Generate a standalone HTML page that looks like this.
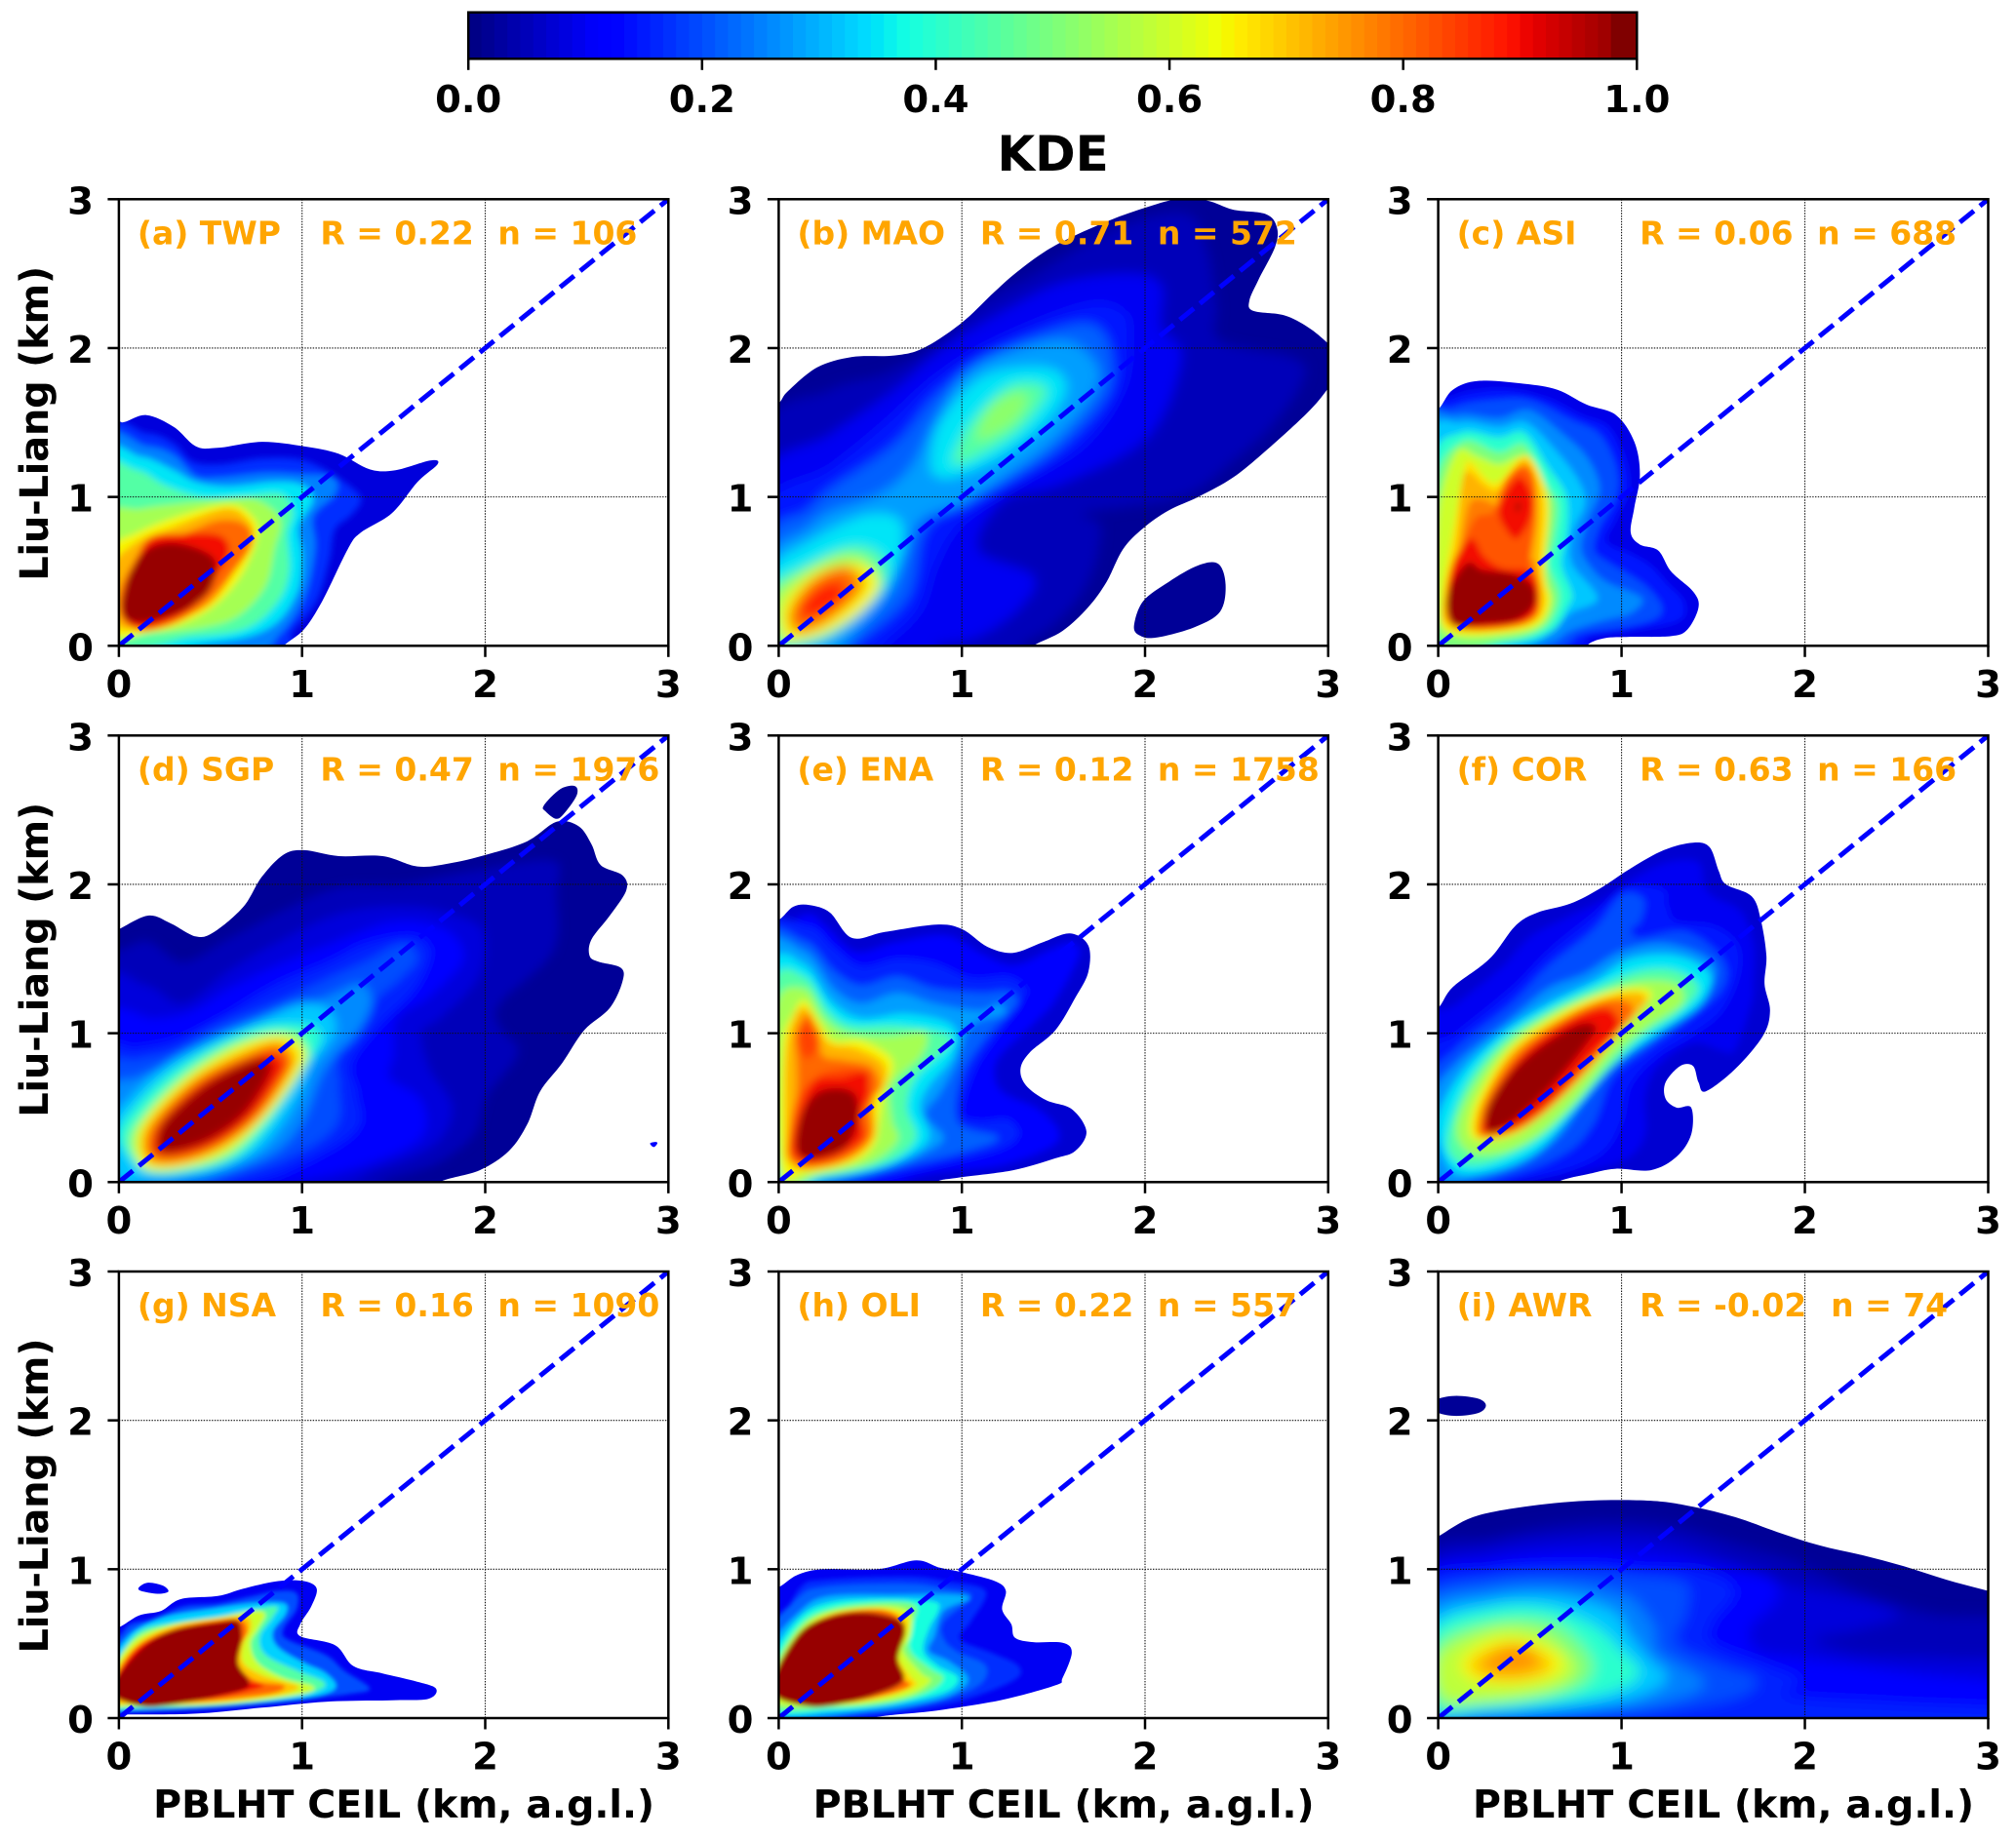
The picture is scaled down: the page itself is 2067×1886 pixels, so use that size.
<!DOCTYPE html>
<html lang="en">
<head>
<meta charset="utf-8">
<title>KDE of Liu-Liang versus PBLHT CEIL</title>
<style>
html,body{margin:0;padding:0;background:#fff;width:2067px;height:1886px;overflow:hidden}
svg{display:block}
text{font-family:"DejaVu Sans","Liberation Sans",sans-serif;font-weight:bold}
</style>
</head>
<body>
<svg id="fig" xmlns="http://www.w3.org/2000/svg" width="2067" height="1886" viewBox="0 0 2067 1886"></svg>
<script>
// ---------- chart data (km, KDE level) ----------
const axisTicks = [0, 1, 2, 3];
const colorbarTicks = [0, 0.2, 0.4, 0.6, 0.8, 1];
const colorbarTickLabels = ["0.0", "0.2", "0.4", "0.6", "0.8", "1.0"];
const colorbarBandCount = 90;
const panelLabels = ["(a) TWP", "(b) MAO", "(c) ASI", "(d) SGP", "(e) ENA", "(f) COR", "(g) NSA", "(h) OLI", "(i) AWR"];
const panelR = ["R = 0.22", "R = 0.71", "R = 0.06", "R = 0.47", "R = 0.12", "R = 0.63", "R = 0.16", "R = 0.22", "R = -0.02"];
const panelN = ["n = 106", "n = 572", "n = 688", "n = 1976", "n = 1758", "n = 166", "n = 1090", "n = 557", "n = 74"];

const levelsA = [.08,.17,.25,.35,.45,.55,.65,.72,.8,.9,.98];
const contoursA = [
[-.1,1.5,.02,1.5,.15,1.55,.3,1.47,.42,1.34,.54,1.33,.78,1.37,1.01,1.34,1.2,1.29,1.37,1.185,1.51,1.18,1.7,1.245,1.74,1.22,1.63,1.1,1.49,.89,1.32,.76,1.25,.65,1.11,.3,1.01,.11,.9,0,.85,-.1,-.1,-.1],
[-.1,1.4,.15,1.43,.3,1.36,.4,1.24,.55,1.22,.78,1.26,1,1.25,1.17,1.15,1.32,1,1.27,.88,1.18,.78,1.15,.58,1.08,.3,.95,.1,.85,-.05,-.1,-.1],
[-.1,1.33,.15,1.34,.3,1.28,.42,1.14,.55,1.13,.8,1.16,1,1.15,1.17,1.13,1.18,1.02,1.06,.87,1.07,.65,1.01,.32,.88,.08,.7,-.05,-.1,-.1],
[-.1,1.25,.12,1.27,.3,1.18,.42,1.1,.6,1.07,.85,1.1,1,1.08,1.06,.98,.98,.8,1,.6,.97,.35,.82,.12,.5,.02,-.1,0],
[-.1,1.15,.1,1.18,.25,1.08,.45,1,.65,1,.88,1.02,.95,.9,.92,.75,.93,.5,.87,.3,.7,.12,.4,.06,-.1,.04],
[-.1,.85,.12,.92,.3,.95,.55,.98,.75,.98,.88,.85,.85,.65,.8,.4,.65,.2,.45,.12,.15,.08,-.1,.08],
[-.05,.62,.1,.76,.35,.88,.6,.95,.72,.88,.76,.75,.68,.5,.55,.3,.4,.18,.2,.1,-.05,.1],
[-.05,.5,.1,.7,.3,.8,.58,.92,.7,.85,.73,.72,.63,.5,.5,.28,.3,.17,.12,.12,-.02,.15],
[0,.33,.05,.5,.16,.68,.35,.75,.54,.84,.68,.82,.73,.7,.63,.5,.47,.28,.3,.15,.12,.1,.02,.18],
[.02,.3,.09,.56,.17,.72,.35,.75,.55,.74,.6,.62,.5,.42,.4,.26,.25,.16,.12,.12,.03,.18],
[.02,.32,.065,.5,.16,.65,.3,.69,.47,.63,.53,.54,.49,.365,.35,.235,.16,.16,.05,.17,.02,.23]
];

const levelsB = [.02,.02,.05,.1,.15,.22,.28,.35,.35,.45,.52,.45,.55,.65,.75,.8,.88];
const contoursB = [
[-.1,1.55,0,1.63,.05,1.71,.21,1.87,.4,1.94,.63,1.95,.79,2,1,2.17,1.18,2.38,1.32,2.53,1.51,2.69,1.79,2.85,2.02,2.95,2.18,3,2.34,2.99,2.48,2.93,2.66,2.9,2.72,2.81,2.71,2.68,2.62,2.46,2.57,2.32,2.59,2.25,2.76,2.22,2.89,2.14,3,2.03,3.1,1.9,3,1.73,2.89,1.57,2.66,1.31,2.48,1.13,2.29,1,2.13,.91,1.99,.79,1.88,.65,1.79,.43,1.69,.26,1.55,.1,1.39,0,1.3,-.1,-.1,-.1],
[1.94,.135,1.99,.3,2.13,.43,2.29,.54,2.4,.55,2.44,.41,2.41,.23,2.27,.125,2.06,.055,1.97,.07],
[-.1,1.4,.28,1.72,.58,1.83,.86,2.03,1.09,2.29,1.4,2.5,1.75,2.75,2.02,2.88,2.25,2.89,2.34,2.66,2.39,2.29,2.41,2.05,2.8,1.94,2.87,1.81,2.71,1.5,2.48,1.24,2.2,1,1.67,.89,1.76,.8,1.69,.43,1.51,.15,1.32,0,1.25,-.1,-.1,-.1],
[-.1,1.1,.28,1.42,.63,1.72,.9,2,1.23,2.25,1.55,2.44,1.92,2.5,2.09,2.42,2.09,2.14,2.2,1.94,2.02,1.41,1.55,1.09,1.23,.98,1.09,.65,1.39,.47,1.32,.26,1.09,.06,.86,0,.8,-.1,-.1,-.1],
[-.1,.9,.28,1.2,.58,1.5,.86,1.81,1.21,2.07,1.67,2.29,1.88,2.25,1.92,2.07,1.88,1.72,1.67,1.35,1.32,1.09,1,.82,.86,.54,.77,.23,.58,0,.5,-.1,-.1,-.1],
[-.05,.72,.15,.9,.28,1.05,.63,1.35,.86,1.68,1.14,1.94,1.55,2.14,1.74,2.14,1.82,1.94,1.79,1.68,1.55,1.35,1.28,1.13,.95,.93,.79,.76,.7,.32,.4,0,.3,-.1,-.1,-.1],
[-.05,.58,.15,.78,.28,.9,.55,1.02,.72,1.2,.85,1.5,1,1.8,1.2,1.95,1.55,2.05,1.73,1.9,1.72,1.7,1.5,1.38,1.25,1.15,1,.95,.78,.85,.68,.6,.6,.35,.35,0,.25,-.1,-.1,-.1],
[.83,1.24,.88,1.5,1.09,1.79,1.32,1.87,1.51,1.85,1.57,1.72,1.46,1.5,1.23,1.28,.98,1.14,.86,1.14],
[-.05,.48,.17,.7,.45,.87,.63,.87,.68,.76,.65,.54,.54,.32,.33,.1,.17,0,-.05,-.05],
[.95,1.26,1.05,1.5,1.25,1.74,1.42,1.76,1.46,1.68,1.32,1.46,1.14,1.31,.98,1.22],
[1.08,1.41,1.16,1.61,1.3,1.7,1.36,1.66,1.28,1.5,1.12,1.39],
[-.05,.38,.17,.55,.4,.67,.56,.61,.58,.43,.45,.23,.26,.06,.03,0,-.05,0],
[-.03,.32,.1,.47,.3,.6,.45,.6,.53,.48,.48,.33,.35,.15,.18,.05,.03,.03],
[.03,.3,.17,.47,.33,.54,.47,.54,.55,.41,.45,.23,.24,.08,.05,.04,.01,.12],
[.06,.23,.17,.43,.35,.54,.45,.47,.45,.365,.26,.15,.1,.09],
[.065,.21,.19,.43,.34,.51,.42,.43,.4,.32,.21,.16,.09,.11],
[.12,.26,.21,.38,.31,.43,.36,.39,.33,.3,.21,.21,.145,.19]
];

const levelsC = [.09,.15,.2,.26,.32,.4,.5,.6,.67,.72,.78,.82,.9,.9,.98,.96];
const contoursC = [
[-.1,1.55,0,1.59,.08,1.72,.22,1.78,.47,1.76,.65,1.72,.81,1.62,.97,1.55,1.07,1.37,1.1,1.15,1.07,.93,1.05,.76,1.1,.68,1.2,.64,1.27,.5,1.39,.365,1.42,.26,1.36,.11,1.27,.065,1.04,.06,.9,.05,.81,0,.8,-.1,-.1,-.1],
[-.1,1.5,.08,1.67,.25,1.72,.4,1.72,.6,1.66,.78,1.55,.93,1.47,1.02,1.25,1.04,1.05,.97,.85,.92,.7,1.05,.62,1.16,.54,1.25,.42,1.34,.3,1.32,.17,1.11,.11,.84,.06,.7,-.03,-.1,-.1],
[-.1,1.45,.08,1.6,.3,1.65,.5,1.65,.72,1.52,.88,1.42,.97,1.2,.97,1,.88,.8,.85,.65,.9,.58,1.05,.47,1.15,.38,1.22,.26,1.18,.18,1,.12,.78,.08,.6,-.03,-.1,-.1],
[-.1,1.4,.1,1.55,.33,1.53,.5,1.58,.7,1.4,.82,1.25,.88,1.05,.82,.85,.78,.65,.85,.5,.93,.42,1.11,.32,1.05,.22,.9,.17,.72,.1,.55,0,-.1,-.1],
[-.05,1.35,.12,1.5,.33,1.47,.48,1.5,.65,1.3,.77,1.1,.8,.95,.73,.75,.73,.55,.87,.32,.72,.22,.6,.08,.45,0,-.05,-.05],
[-.03,1.2,.12,1.43,.33,1.4,.47,1.43,.6,1.2,.7,1,.7,.75,.67,.55,.73,.35,.7,.25,.62,.1,.4,.02,-.03,.02],
[-.02,1.05,.13,1.37,.33,1.3,.47,1.35,.58,1.1,.65,.95,.63,.7,.6,.55,.66,.35,.63,.2,.55,.1,.35,.03,0,.03],
[0,.9,.1,1.3,.22,1.27,.33,1.22,.47,1.27,.56,1.05,.6,.85,.58,.6,.58,.45,.62,.3,.55,.13,.35,.07,.1,.06,0,.2],
[.135,1.13,.17,1.24,.31,1.09,.48,1.28,.6,.98,.58,.54,.6,.28,.51,.135,.24,.08,.04,.12,.02,.32,.08,.76],
[.13,1.1,.17,1.17,.25,1.08,.33,1.05,.47,1.25,.56,1,.55,.55,.57,.3,.5,.15,.24,.1,.06,.14,.03,.3,.1,.7],
[.11,.6,.17,.95,.25,.98,.35,.95,.45,1.2,.52,1.15,.53,.85,.5,.6,.53,.55,.55,.3,.48,.16,.24,.11,.07,.15,.05,.35],
[.1,.55,.2,.85,.3,.9,.36,1.1,.45,1.2,.52,1.1,.53,.85,.5,.55,.53,.45,.55,.25,.47,.16,.24,.12,.07,.16,.05,.35],
[.33,.9,.38,1.05,.45,1.13,.51,1,.5,.85,.43,.72,.37,.78],
[.05,.35,.08,.55,.18,.72,.25,.6,.35,.52,.5,.5,.55,.35,.5,.18,.35,.13,.15,.12,.06,.17],
[.05,.33,.1,.47,.17,.56,.24,.51,.4,.485,.51,.41,.525,.28,.42,.17,.24,.145,.1,.135,.055,.21],
[.42,.93,.44,.97,.45,.93,.43,.9]
];

const levelsD = [.02,.02,.11,.05,.08,.12,.16,.2,.26,.32,.4,.5,.6,.66,.75,.82,.9,.98];
const contoursD = [
[-.1,1.65,0,1.7,.16,1.79,.28,1.74,.42,1.65,.52,1.68,.68,1.85,.78,2.05,.9,2.2,1.01,2.23,1.2,2.19,1.44,2.19,1.63,2.12,1.8,2.14,2.01,2.2,2.23,2.29,2.39,2.42,2.51,2.39,2.58,2.27,2.63,2.13,2.75,2.06,2.77,1.96,2.68,1.79,2.58,1.63,2.57,1.52,2.62,1.48,2.74,1.44,2.75,1.35,2.68,1.17,2.54,1.02,2.42,.8,2.3,.61,2.23,.39,2.13,.21,1.97,.08,1.75,0,1.7,-.1,-.1,-.1],
[2.32,2.53,2.41,2.64,2.49,2.66,2.5,2.6,2.44,2.49,2.39,2.44,2.33,2.49],
[2.9,.26,2.93,.27,2.94,.26,2.92,.235],
[-.1,1.5,0,1.55,.16,1.62,.35,1.48,.59,1.63,.87,1.81,1.2,1.98,1.54,2,1.94,2.09,2.37,2.16,2.39,1.94,2.37,1.55,2.08,1.2,2.08,1.04,2.18,.87,2.01,.58,1.94,.32,1.73,.12,1.44,0,1.35,-.1,-.1,-.1],
[-.1,1.3,.15,1.32,.35,1.2,.6,1.42,.85,1.6,1.2,1.8,1.6,1.85,1.93,1.75,2,1.6,1.95,1.35,1.75,1.1,1.65,1,1.7,.75,1.82,.5,1.72,.25,1.4,.08,1.1,-.03,-.1,-.1],
[-.1,1.08,.2,1.1,.4,1.15,.6,1.3,.85,1.45,1.15,1.6,1.5,1.75,1.78,1.7,1.88,1.5,1.7,1.25,1.52,1.1,1.5,.85,1.48,.7,1.65,.55,1.65,.3,1.35,.12,.9,0,-.1,-.1],
[-.1,.85,.1,.9,.3,.95,.55,1.1,.85,1.32,1.15,1.48,1.35,1.6,1.6,1.65,1.7,1.55,1.62,1.3,1.42,1.05,1.27,.8,1.3,.6,1.3,.35,1,.12,.7,0,-.1,-.1],
[-.05,.75,.1,.82,.3,.88,.55,1.05,.85,1.2,1.15,1.37,1.35,1.48,1.55,1.6,1.63,1.5,1.52,1.35,1.38,1.2,1.2,.87,1.2,.65,1.18,.37,.9,.15,.5,0,.4,-.05,-.05,-.05],
[-.05,.6,.1,.7,.3,.8,.55,.95,.85,1.1,1.15,1.25,1.32,1.33,1.38,1.2,1.3,1,1.18,.85,1.1,.7,1,.4,.85,.2,.6,.07,.35,0,-.05,-.05],
[-.03,.4,.05,.55,.25,.78,.5,.95,.75,1.08,1,1.2,1.15,1.15,1.18,1,1.05,.78,1,.62,.9,.4,.75,.2,.5,.07,.2,.03,0,.03],
[0,.3,.1,.52,.3,.75,.55,.93,.8,1.05,1.05,1.05,1.1,.95,1,.75,.9,.55,.8,.35,.65,.17,.4,.07,.15,.07],
[.05,.28,.15,.48,.35,.72,.6,.92,.85,1,1,.98,.98,.82,.88,.6,.75,.35,.6,.17,.4,.1,.15,.1],
[.08,.26,.15,.45,.37,.72,.66,.93,.88,1,1.02,.9,1,.75,.82,.45,.6,.2,.35,.09,.14,.09],
[.11,.255,.16,.43,.4,.71,.68,.91,.87,.97,.99,.89,.97,.76,.8,.45,.59,.23,.35,.11,.16,.11],
[.13,.26,.19,.43,.42,.7,.7,.88,.87,.94,.95,.86,.94,.75,.78,.45,.57,.24,.35,.13,.18,.13],
[.16,.25,.22,.42,.44,.68,.72,.85,.86,.9,.93,.83,.91,.73,.75,.45,.55,.25,.35,.16,.2,.16],
[.19,.25,.24,.42,.46,.67,.72,.83,.84,.86,.9,.78,.87,.7,.73,.44,.54,.27,.35,.19,.22,.19],
[.21,.255,.25,.41,.47,.65,.71,.81,.82,.81,.81,.69,.68,.45,.49,.28,.3,.2,.23,.2]
];

const levelsE = [.07,.11,.16,.22,.28,.35,.45,.55,.65,.72,.8,.84,.84,.9,.98];
const contoursE = [
[-.1,1.72,0,1.76,.08,1.85,.17,1.86,.28,1.81,.4,1.64,.58,1.68,.86,1.73,1,1.7,1.14,1.58,1.28,1.54,1.44,1.61,1.59,1.67,1.69,1.59,1.69,1.41,1.62,1.24,1.51,1.02,1.37,.87,1.32,.76,1.35,.65,1.46,.55,1.6,.49,1.68,.34,1.62,.21,1.51,.16,1.28,.08,.98,.03,.86,0,.8,-.1,-.1,-.1],
[-.1,1.65,0,1.7,.16,1.8,.26,1.72,.42,1.55,.63,1.61,.91,1.66,1.09,1.55,1.28,1.46,1.48,1.56,1.6,1.61,1.64,1.52,1.51,1.22,1.39,1.06,1.21,.85,1.18,.72,1.23,.6,1.42,.49,1.53,.34,1.48,.23,1.21,.11,.86,.06,.68,0,.6,-.1,-.1,-.1],
[-.1,1.6,.16,1.72,.3,1.58,.45,1.45,.65,1.5,.85,1.47,1.05,1.37,1.25,1.38,1.35,1.3,1.32,1.2,1.2,1,1.07,.76,1,.47,1.09,.41,1.25,.42,1.31,.32,1.21,.22,.86,.11,.5,.02,-.1,-.1],
[-.1,1.55,.14,1.62,.3,1.42,.45,1.32,.65,1.38,.85,1.3,1.1,1.27,1.25,1.28,1.3,1.2,1.15,1,1,.72,.98,.4,1.2,.3,1,.2,.7,.11,.4,.02,-.1,-.1],
[-.1,1.5,.14,1.55,.3,1.3,.45,1.2,.65,1.27,.85,1.2,1.1,1.15,1.2,1.2,1.23,1.13,1.05,1.05,.97,.8,.88,.6,.8,.45,.9,.3,.8,.2,.6,.1,.3,.02,-.1,-.05],
[-.05,1.4,.14,1.46,.28,1.22,.45,1.1,.7,1.13,.95,1.05,.95,.85,.82,.65,.77,.5,.82,.3,.7,.17,.5,.08,.25,.03,-.05,0],
[-.03,1.3,.14,1.38,.27,1.15,.4,1.05,.65,1.05,.9,1,.93,.92,.75,.7,.7,.5,.75,.3,.62,.15,.4,.07,.15,.03,0,.03],
[-.02,1.15,.14,1.3,.25,1.1,.38,1,.6,.98,.8,1,.78,.85,.62,.65,.62,.42,.65,.28,.5,.13,.25,.06,0,.05],
[.02,.9,.08,1.13,.14,1.22,.22,1.08,.3,.95,.45,.95,.6,.85,.62,.75,.57,.6,.55,.42,.52,.25,.4,.13,.15,.06,.02,.08],
[.04,.85,.09,1.12,.15,1.17,.21,1.05,.28,.93,.42,.9,.57,.8,.58,.65,.52,.55,.52,.3,.38,.14,.15,.08,.05,.14,.04,.3],
[.09,.97,.13,1.1,.17,1.12,.22,1,.24,.85,.35,.82,.5,.78,.55,.65,.5,.5,.5,.3,.35,.15,.15,.1,.05,.18,.07,.4,.1,.6,.1,.8],
[.11,1,.15,1.07,.2,.98,.21,.9,.16,.83,.12,.88],
[.06,.3,.1,.55,.2,.7,.3,.75,.45,.75,.5,.6,.45,.45,.47,.28,.33,.16,.15,.12,.07,.18],
[.09,.28,.13,.5,.2,.68,.35,.7,.48,.74,.49,.6,.45,.45,.45,.3,.3,.18,.17,.14,.1,.18],
[.095,.28,.13,.47,.21,.6,.33,.63,.42,.58,.43,.41,.36,.23,.21,.16,.12,.17]
];

const levelsF = [.07,.1,.15,.2,.27,.35,.45,.55,.65,.72,.8,.9,.98];
const contoursF = [
[-.1,1.1,0,1.17,.08,1.31,.28,1.5,.42,1.72,.54,1.81,.72,1.87,.88,1.97,1.04,2.1,1.23,2.23,1.39,2.28,1.48,2.25,1.53,2.09,1.57,2,1.71,1.92,1.76,1.76,1.79,1.52,1.78,1.33,1.81,1.15,1.77,.98,1.62,.76,1.46,.61,1.42,.67,1.39,.78,1.32,.78,1.24,.67,1.24,.56,1.3,.5,1.38,.5,1.38,.32,1.3,.17,1.16,.08,.97,.09,.84,.06,.65,0,.6,-.1,-.1,-.1],
[-.1,1,.1,1.2,.35,1.45,.5,1.65,.7,1.78,.9,1.9,1.05,2.03,1.25,2.15,1.42,2.15,1.45,2,1.5,1.92,1.65,1.82,1.72,1.6,1.72,1.35,1.71,1.2,1.62,.89,1.55,.88,1.39,.93,1.2,.78,1.13,.58,1.13,.32,1.02,.15,.7,.04,.47,0,-.1,-.1],
[-.1,.8,.1,1,.4,1.3,.6,1.55,.85,1.8,1.02,1.98,1.22,1.97,1.25,1.85,1.3,1.75,1.5,1.72,1.63,1.6,1.64,1.4,1.55,1.15,1.4,1,1.2,.85,1.05,.65,1,.4,.9,.2,.7,.08,.4,0,-.1,-.1],
[-.05,.65,.1,.9,.4,1.2,.6,1.45,.85,1.7,1,1.93,1.12,1.9,1.1,1.75,1.05,1.7,1.1,1.64,1.35,1.68,1.55,1.5,1.55,1.3,1.35,1.08,1.15,.9,.95,.7,.85,.4,.7,.2,.4,.05,0,0],
[-.03,.55,.1,.8,.4,1.1,.6,1.3,.8,1.4,1,1.55,1.25,1.6,1.5,1.47,1.45,1.25,1.2,1.02,1,.85,.8,.55,.65,.3,.45,.12,.2,.03,0,.03],
[0,.4,.12,.72,.35,1,.6,1.2,.85,1.35,1.05,1.5,1.3,1.52,1.48,1.4,1.43,1.2,1.2,1,.95,.78,.75,.5,.55,.22,.3,.08,.08,.08],
[.05,.3,.15,.65,.35,.95,.6,1.15,.85,1.3,1.1,1.42,1.3,1.42,1.42,1.3,1.3,1.13,1.1,.97,.9,.72,.7,.45,.5,.25,.25,.12,.1,.14],
[.1,.35,.17,.6,.35,.9,.6,1.12,.85,1.25,1.1,1.35,1.3,1.33,1.33,1.2,1.15,1.05,.95,.85,.75,.55,.55,.32,.35,.2,.17,.2],
[.17,.365,.22,.58,.4,.91,.7,1.16,.93,1.28,1.11,1.3,1.16,1.24,1.02,1.06,.82,.8,.6,.5,.42,.32,.22,.28],
[.2,.36,.25,.58,.42,.9,.72,1.14,.95,1.25,1.1,1.27,1.13,1.2,1,1.02,.82,.75,.6,.48,.42,.33,.25,.29],
[.22,.36,.27,.58,.44,.88,.72,1.12,.92,1.22,1.05,1.2,1.05,1.1,.95,.98,.78,.72,.58,.48,.42,.35,.26,.31],
[.24,.37,.3,.58,.46,.86,.7,1.08,.9,1.17,.98,1.1,.97,1,.82,.82,.65,.58,.5,.42,.38,.35,.27,.33],
[.27,.34,.27,.5,.4,.74,.58,.93,.77,1.06,.86,1.04,.81,.93,.65,.69,.47,.47,.33,.35]
];

const levelsG = [.1,.1,.2,.33,.45,.6,.7,.8,.9,.98];
const contoursG = [
[-.1,.58,0,.61,.11,.69,.23,.72,.34,.8,.54,.82,.68,.87,.87,.92,1.01,.92,1.08,.87,1.05,.75,.99,.63,.99,.55,1.18,.49,1.28,.35,1.44,.3,1.61,.25,1.73,.2,1.69,.13,1.49,.12,1.13,.11,.78,.07,.42,.03,.06,.025,-.1,.03],
[.11,.88,.16,.91,.24,.89,.27,.85,.21,.835,.12,.855],
[-.1,.5,0,.55,.06,.63,.18,.665,.35,.75,.54,.77,.73,.82,.87,.855,.97,.84,.97,.73,.9,.6,.92,.53,1.13,.425,1.23,.32,1.37,.2,1.25,.16,.9,.11,.54,.066,.06,.04,-.1,.05],
[-.05,.4,0,.475,.09,.59,.25,.68,.49,.73,.73,.77,.9,.77,.91,.7,.84,.58,.87,.475,1.01,.37,1.13,.3,1.18,.2,1.01,.13,.66,.09,.06,.05,-.05,.06],
[-.05,.35,0,.4,.11,.58,.3,.64,.59,.69,.85,.75,.84,.68,.77,.55,.8,.425,.97,.32,1.11,.25,1.11,.2,.97,.15,.54,.083,.06,.066,-.05,.08],
[-.02,.35,.1,.54,.3,.63,.55,.68,.72,.72,.8,.7,.76,.6,.72,.5,.76,.37,.9,.27,1.05,.22,1.05,.18,.9,.14,.54,.095,.08,.08,-.02,.1],
[-.02,.3,.1,.5,.3,.62,.55,.67,.7,.68,.72,.6,.68,.5,.68,.37,.8,.28,.97,.22,.95,.18,.8,.14,.5,.1,.1,.09,-.02,.12],
[-.02,.27,.1,.48,.3,.6,.55,.66,.67,.66,.7,.58,.65,.45,.65,.35,.75,.25,.9,.22,.85,.17,.6,.13,.3,.1,.1,.1,-.02,.14],
[-.02,.26,.1,.47,.3,.59,.55,.65,.64,.65,.67,.55,.64,.42,.63,.33,.7,.25,.79,.22,.7,.18,.5,.13,.25,.1,.08,.11,-.02,.15],
[-.02,.25,.135,.475,.3,.59,.54,.64,.65,.65,.67,.53,.65,.37,.71,.22,.54,.15,.25,.083,.11,.083,-.02,.15]
];

const levelsH = [.1,.17,.22,.3,.38,.5,.6,.68,.8,.98];
const contoursH = [
[-.1,.85,0,.88,.1,.96,.24,1,.54,1,.75,1.06,.88,1.01,1,.98,1.18,.92,1.24,.855,1.22,.73,1.27,.63,1.29,.54,1.39,.51,1.55,.506,1.6,.44,1.55,.27,1.51,.22,1.21,.12,.86,.05,.51,0,.4,-.1,-.1,-.1],
[-.1,.55,0,.62,.12,.88,.26,.93,.7,.95,.91,.92,1.13,.855,1.05,.65,.99,.53,1.16,.44,1.31,.35,1.28,.25,.98,.11,.63,.03,.3,-.02,-.1,-.02],
[-.1,.5,.1,.8,.25,.88,.7,.9,.9,.87,1.05,.82,.9,.65,.9,.53,.98,.44,1.13,.35,1.09,.22,.86,.11,.51,.045,-.1,0],
[-.05,.45,.12,.72,.28,.82,.65,.83,.95,.83,1.04,.8,.9,.72,.85,.55,.82,.45,.93,.38,1.03,.28,1,.2,.85,.12,.5,.05,-.05,.03],
[-.03,.4,.12,.68,.3,.78,.6,.8,.85,.78,.87,.72,.82,.6,.79,.45,.87,.35,.98,.27,.9,.17,.6,.09,.3,.05,-.03,.05],
[-.02,.35,.12,.63,.3,.74,.6,.78,.75,.75,.72,.6,.72,.45,.83,.33,.9,.27,.82,.18,.6,.1,.3,.07,-.02,.07],
[-.02,.32,.12,.6,.3,.72,.6,.75,.72,.7,.72,.55,.68,.45,.78,.3,.83,.25,.7,.15,.4,.09,.1,.08,-.02,.12],
[-.02,.3,.12,.58,.3,.7,.55,.74,.7,.68,.69,.55,.65,.42,.72,.28,.75,.22,.6,.15,.3,.09,.08,.11,-.02,.16],
[-.02,.29,.12,.57,.3,.7,.55,.73,.67,.66,.66,.55,.63,.42,.68,.27,.72,.22,.6,.16,.35,.1,.08,.12,-.02,.16],
[-.02,.3,.12,.58,.28,.68,.47,.71,.65,.665,.69,.58,.65,.4,.68,.25,.51,.15,.28,.083,.145,.083,-.02,.15]
];

const levelsI = [.02,.02,.05,.08,.11,.16,.2,.25,.32,.4,.5,.58,.65,.7,.75];
const contoursI = [
[-.1,1.15,0,1.22,.19,1.35,.47,1.42,.81,1.46,1.16,1.46,1.39,1.42,1.62,1.35,1.85,1.25,2.08,1.16,2.31,1.095,2.54,1.02,2.77,.93,3,.855,3.2,.8,3.2,-.1,-.1,-.1],
[-.05,2.1,0,2.145,.1,2.165,.22,2.145,.26,2.1,.22,2.05,.1,2.03,0,2.05],
[-.1,1.05,.3,1.22,.8,1.32,1.25,1.3,1.6,1.18,1.95,1.05,2.3,.85,2.7,.7,3.2,.6,3.2,-.1,-.1,-.1],
[-.1,.95,.3,1.15,.8,1.22,1.2,1.2,1.55,1.07,1.9,.9,2.5,.72,2.3,.6,2.05,.53,2.3,.43,2.8,.4,3.2,.35,3.2,-.1,-.1,-.1],
[-.1,.9,.3,1.07,.8,1.12,1.2,1.08,1.55,1,1.8,.95,1.85,.8,1.7,.6,1.75,.45,2,.4,2.6,.3,3.2,.2,3.2,-.1,-.1,-.1],
[-.1,.85,.3,1,.8,1.03,1.1,1,1.45,.98,1.62,.85,1.5,.65,1.5,.5,1.8,.35,1.98,.25,1.9,.15,2.5,.1,3.2,.05,3.2,-.1,-.1,-.1],
[-.1,.78,.3,.95,.8,.97,1.1,.95,1.35,.9,1.35,.7,1.3,.5,1.55,.35,1.73,.27,1.7,.18,1.5,.1,1,.03,-.1,.02],
[-.1,.72,.3,.88,.7,.9,1,.83,1.1,.75,1.18,.6,1.2,.45,1.4,.3,1.45,.22,1.3,.13,.9,.05,-.1,.03],
[-.05,.65,.3,.8,.65,.82,.95,.72,1.05,.55,1.15,.4,1.25,.27,1.1,.15,.8,.08,.3,.04,-.05,.04],
[-.03,.58,.3,.74,.6,.74,.85,.62,1,.45,1.1,.3,.95,.18,.6,.1,.25,.06,-.03,.07],
[0,.5,.3,.65,.6,.65,.78,.5,.85,.33,.75,.2,.5,.13,.2,.09,0,.1],
[0,.42,.3,.6,.55,.58,.72,.42,.75,.3,.6,.18,.3,.12,.03,.14],
[.12,.37,.24,.5,.42,.54,.63,.45,.68,.35,.61,.27,.4,.22,.19,.25],
[.17,.36,.28,.46,.42,.5,.57,.43,.62,.35,.55,.28,.4,.25,.25,.27],
[.24,.37,.33,.46,.45,.49,.54,.425,.55,.37,.49,.32,.38,.3,.27,.32]
];

const panelLevels = [levelsA, levelsB, levelsC, levelsD, levelsE, levelsF, levelsG, levelsH, levelsI];
const panelContours = [contoursA, contoursB, contoursC, contoursD, contoursE, contoursF, contoursG, contoursH, contoursI];

// ---------- layout ----------
const svg = document.getElementById('fig');
const NS = 'http://www.w3.org/2000/svg';
const colX = [[121.9, 685.3], [798.4, 1361.8], [1474.6, 2038.5]];
const rowY = [[204.3, 662.3], [754.3, 1212.3], [1304, 1762]];
const bar = {x0: 480.2, x1: 1678.3, y0: 12.7, y1: 60.3};
const outerShapeCount = [1, 2, 1, 3, 1, 1, 2, 1, 2];
const bandSoftness = [3.5, 6, 3.5, 5, 4, 4, 2, 2.5, 7];

function mk(tag, parent, attrs) {
  const e = document.createElementNS(NS, tag);
  for (const k in attrs) e.setAttribute(k, attrs[k]);
  parent.appendChild(e);
  return e;
}
function jet(v) {
  const seg = (pts) => {
    for (let i = 1; i < pts.length; i++) {
      if (v <= pts[i][0]) {
        const a = pts[i - 1], b = pts[i];
        return a[1] + (b[1] - a[1]) * (v - a[0]) / (b[0] - a[0]);
      }
    }
    return pts[pts.length - 1][1];
  };
  const r = seg([[0, 0], [.35, 0], [.66, 1], [.89, 1], [1, .5]]);
  const g = seg([[0, 0], [.125, 0], [.375, 1], [.64, 1], [.91, 0], [1, 0]]);
  const b = seg([[0, .5], [.11, 1], [.34, 1], [.65, 0], [1, 0]]);
  return 'rgb(' + Math.round(r * 255) + ',' + Math.round(g * 255) + ',' + Math.round(b * 255) + ')';
}
function smoothClosed(pts) {
  const n = pts.length;
  let d = 'M' + pts[0][0].toFixed(1) + ' ' + pts[0][1].toFixed(1);
  for (let i = 0; i < n; i++) {
    const p0 = pts[(i - 1 + n) % n], p1 = pts[i], p2 = pts[(i + 1) % n], p3 = pts[(i + 2) % n];
    const c1x = p1[0] + (p2[0] - p0[0]) / 6, c1y = p1[1] + (p2[1] - p0[1]) / 6;
    const c2x = p2[0] - (p3[0] - p1[0]) / 6, c2y = p2[1] - (p3[1] - p1[1]) / 6;
    d += 'C' + c1x.toFixed(1) + ' ' + c1y.toFixed(1) + ' ' + c2x.toFixed(1) + ' ' + c2y.toFixed(1) + ' ' + p2[0].toFixed(1) + ' ' + p2[1].toFixed(1);
  }
  return d + 'Z';
}

// ---------- colorbar ----------
const cbar = mk('g', svg, {});


const cbarX = (v) => bar.x0 + v * (bar.x1 - bar.x0);
for (let i = 0; i < colorbarBandCount; i++) {
  const v0 = i / colorbarBandCount, v1 = (i + 1) / colorbarBandCount;
  const mid = v0 >= .97 ? 1 : (v0 + v1) / 2;
  const band = mk('rect', cbar, {x: cbarX(v0), y: bar.y0, width: cbarX(v1) - cbarX(v0) + .6, height: bar.y1 - bar.y0, fill: jet(mid)});
  
  
}
const cbarFrame = mk('rect', cbar, {x: bar.x0, y: bar.y0, width: bar.x1 - bar.x0, height: bar.y1 - bar.y0, fill: 'none', stroke: '#000', 'stroke-width': 2.5});


colorbarTicks.forEach((v, i) => {
  const tick = mk('line', cbar, {x1: cbarX(v), x2: cbarX(v), y1: bar.y1, y2: bar.y1 + 11.5, stroke: '#000', 'stroke-width': 2.5});
  
  
  const lab = mk('text', cbar, {x: cbarX(v), y: 115, 'text-anchor': 'middle', 'font-size': 38.5, fill: '#000'});
  lab.textContent = colorbarTickLabels[i];
  
  
});
const cbarTitle = mk('text', cbar, {x: 1079.6, y: 175, 'text-anchor': 'middle', 'font-size': 50, fill: '#000'});
cbarTitle.textContent = 'KDE';



// ---------- panels ----------
panelLabels.forEach((label, idx) => {
  const col = idx % 3, row = Math.floor(idx / 3);
  const [x0, x1] = colX[col];
  const [yT, yB] = rowY[row];
  const xScale = (v) => x0 + (v / 3) * (x1 - x0);
  const yScale = (v) => yB - (v / 3) * (yB - yT);

  const g = mk('g', svg, {});
  
  

  const defs = mk('defs', g, {});
  const cp = mk('clipPath', defs, {id: 'clip' + idx});
  mk('rect', cp, {x: x0, y: yT, width: x1 - x0, height: yB - yT});
  const shapeClip = mk('clipPath', defs, {id: 'shape' + idx});
  const soft = mk('filter', defs, {id: 'soft' + idx, filterUnits: 'userSpaceOnUse', x: x0 - 80, y: yT - 80, width: x1 - x0 + 160, height: yB - yT + 160});
  mk('feGaussianBlur', soft, {stdDeviation: bandSoftness[idx]});

  const plot = mk('g', g, {'clip-path': 'url(#clip' + idx + ')'});
  
  

  const baseLayer = mk('g', plot, {});
  
  
  const clipWrap = mk('g', plot, {'clip-path': 'url(#shape' + idx + ')'});
  const softLayer = mk('g', clipWrap, {filter: 'url(#soft' + idx + ')'});
  
  

  // filled KDE contours
  panelContours[idx].forEach((flat, k) => {
    const pts = [];
    for (let i = 0; i + 1 < flat.length; i += 2) pts.push([xScale(flat[i]), yScale(flat[i + 1])]);
    const d = smoothClosed(pts);
    const isOuter = k < outerShapeCount[idx];
    const p = mk('path', isOuter ? baseLayer : softLayer, {d: d, fill: jet(panelLevels[idx][k])});
    
    
    if (isOuter) mk('path', shapeClip, {d: d});
  });

  // grid
  axisTicks.slice(1, 3).forEach((t) => {
    const gv = mk('line', plot, {x1: xScale(t), x2: xScale(t), y1: yT, y2: yB, stroke: '#111', 'stroke-width': 1.1, 'stroke-dasharray': '1.4 1.4'});
    
    
    const gh = mk('line', plot, {x1: x0, x2: x1, y1: yScale(t), y2: yScale(t), stroke: '#111', 'stroke-width': 1.1, 'stroke-dasharray': '1.4 1.4'});
    
    
  });

  // 1:1 line
  const one = mk('line', plot, {x1: xScale(0), y1: yScale(0), x2: xScale(3), y2: yScale(3), stroke: '#0000ff', 'stroke-width': 5, 'stroke-dasharray': '18.5 8'});
  
  

  // frame
  const frame = mk('rect', g, {x: x0, y: yT, width: x1 - x0, height: yB - yT, fill: 'none', stroke: '#000', 'stroke-width': 2.5});
  
  

  // ticks and labels
  axisTicks.forEach((t) => {
    const tx = mk('line', g, {x1: xScale(t), x2: xScale(t), y1: yB, y2: yB + 11.5, stroke: '#000', 'stroke-width': 2.5});
    
    
    const ty = mk('line', g, {x1: x0 - 11.5, x2: x0, y1: yScale(t), y2: yScale(t), stroke: '#000', 'stroke-width': 2.5});
    
    
    const lx = mk('text', g, {x: xScale(t), y: yB + 52.5, 'text-anchor': 'middle', 'font-size': 38.5, fill: '#000'});
    lx.textContent = String(t);
    
    
    const ly = mk('text', g, {x: x0 - 26, y: yScale(t) + 15, 'text-anchor': 'end', 'font-size': 38.5, fill: '#000'});
    ly.textContent = String(t);
    
    
  });

  // annotations
  const a1 = mk('text', g, {x: x0 + 19, y: yT + 46, 'font-size': 33, fill: '#ffa500'});
  a1.textContent = label;
  
  
  const a2 = mk('text', g, {x: x0 + 206.5, y: yT + 46, 'font-size': 33, fill: '#ffa500'});
  a2.textContent = panelR[idx];
  
  
  const a3 = mk('text', g, {x: x0 + (idx === 8 ? 402.5 : 388.5), y: yT + 46, 'font-size': 33, fill: '#ffa500'});
  a3.textContent = panelN[idx];
  
  

  // axis titles
  if (col === 0) {
    const yc = (yT + yB) / 2 + 1;
    const yl = mk('text', g, {x: 0, y: 0, transform: 'translate(49 ' + yc + ') rotate(-90)', 'text-anchor': 'middle', 'font-size': 40, fill: '#000', textLength: 323, lengthAdjust: 'spacing'});
    yl.textContent = 'Liu-Liang (km)';
    
    
  }
  if (row === 2) {
    const xl = mk('text', g, {x: (x0 + x1) / 2 + 10.5, y: 1864, 'text-anchor': 'middle', 'font-size': 39.5, fill: '#000', textLength: 514, lengthAdjust: 'spacing'});
    xl.textContent = 'PBLHT CEIL (km, a.g.l.)';
    
    
  }
});
</script>
</body>
</html>
